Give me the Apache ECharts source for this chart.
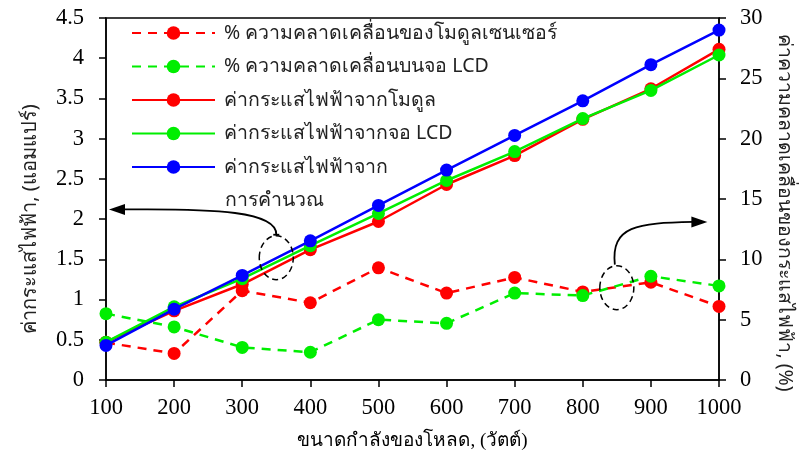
<!DOCTYPE html>
<html>
<head>
<meta charset="utf-8">
<script src="https://cdn.jsdelivr.net/npm/echarts@6/dist/echarts.min.js"></script>
<style>html,body{margin:0;padding:0;background:#fff;}#c{width:803px;height:459px;}</style>
</head>
<body>
<div id="c"></div>
<script>
const loads = [100, 200, 300, 400, 500, 600, 700, 800, 900, 1000];
const errModule = [3.1, 2.2, 7.4, 6.4, 9.3, 7.2, 8.5, 7.3, 8.1, 6.1];
const errLCD = [5.5, 4.4, 2.7, 2.3, 5.0, 4.7, 7.2, 7.0, 8.6, 7.8];
const curModule = [0.47, 0.86, 1.19, 1.62, 1.97, 2.43, 2.79, 3.24, 3.62, 4.11];
const curLCD = [0.47, 0.91, 1.26, 1.67, 2.07, 2.48, 2.84, 3.25, 3.60, 4.04];
const curCalc = [0.43, 0.88, 1.30, 1.73, 2.17, 2.61, 3.04, 3.47, 3.92, 4.35];
const names = [
  '% ความคลาดเคลื่อนของโมดูลเซนเซอร์',
  '% ความคลาดเคลื่อนบนจอ LCD',
  'ค่ากระแสไฟฟ้าจากโมดูล',
  'ค่ากระแสไฟฟ้าจากจอ LCD',
  'ค่ากระแสไฟฟ้าจาก\nการคำนวณ'
];
const xTitle = 'ขนาดกำลังของโหลด, (วัตต์)';
const yLeftTitle = 'ค่ากระแสไฟฟ้า, (แอมแปร์)';
const yRightTitle = 'ค่าความคลาดเคลื่อนของกระแสไฟฟ้า, (%)';

const RED = '#ff0000', GREEN = '#00ee00', BLUE = '#0000ff';
const serif = '"Liberation Serif", "Times New Roman", serif';
const sans = '"Noto Sans", sans-serif';

function pairs(ys) { return loads.map((x, i) => [x, ys[i]]); }
function mk(name, data, color, dashed, yIdx, z) {
  return {
    name: name, type: 'line', yAxisIndex: yIdx, data: pairs(data), z: z,
    symbol: 'circle', symbolSize: 13,
    lineStyle: { color: color, width: 2.5, type: dashed ? [9, 7] : 'solid' },
    itemStyle: { color: color },
    emphasis: { disabled: true }, animation: false
  };
}

const chart = echarts.init(document.getElementById('c'), null, { renderer: 'canvas' });
const axisLine = { show: true, lineStyle: { color: '#000', width: 1.5 } };
const axisTick = { show: true, inside: false, length: 7, lineStyle: { color: '#000', width: 1.5 } };
const fmt = v => String(v);
const LEG_LEFT = 126, LEG_TOP = 13, LEG_W = 83, LEG_PITCH = 33.5, LEG_FONT = 19.5, LEG_PAD = 4;
chart.setOption({
  animation: false,
  grid: { left: 106, right: 84, top: 18, bottom: 79, show: true, borderColor: '#000', borderWidth: 1.5 },
  legend: {
    orient: 'vertical', left: LEG_LEFT, top: LEG_TOP, itemWidth: LEG_W, itemHeight: 17, itemGap: 3.5,
    textStyle: { fontFamily: sans, fontSize: LEG_FONT, color: '#222', lineHeight: 30, padding: [0, 0, 0, LEG_PAD] },
    formatter: n => n.split('\n')[0],
    data: names
  },
  xAxis: {
    type: 'value', min: 100, max: 1000, interval: 100,
    name: xTitle, nameLocation: 'middle', nameGap: 52,
    nameTextStyle: { fontFamily: serif, fontSize: 19, color: '#000' },
    axisLine: axisLine, axisTick: axisTick, splitLine: { show: false },
    axisLabel: { fontFamily: serif, fontSize: 22.5, color: '#000', margin: 17, formatter: fmt }
  },
  yAxis: [
    {
      type: 'value', min: 0, max: 4.5, interval: 0.5, position: 'left',
      name: yLeftTitle, nameLocation: 'middle', nameGap: 66, nameRotate: 90,
      nameTextStyle: { fontFamily: sans, fontSize: 20, color: '#222', padding: [0, 0, 0, -40] },
      axisLine: axisLine, axisTick: axisTick, splitLine: { show: false },
      axisLabel: { fontFamily: serif, fontSize: 22.5, color: '#000', margin: 22, formatter: fmt }
    },
    {
      type: 'value', min: 0, max: 30, interval: 5, position: 'right',
      name: yRightTitle, nameLocation: 'middle', nameGap: 56, nameRotate: -90,
      nameTextStyle: { fontFamily: sans, fontSize: 19.5, color: '#222', padding: [0, 0, 0, 28] },
      axisLine: axisLine, axisTick: axisTick, splitLine: { show: false },
      axisLabel: { fontFamily: serif, fontSize: 22.5, color: '#000', margin: 21, formatter: fmt }
    }
  ],
  series: [
    mk(names[0], errModule, RED, true, 1, 3),
    mk(names[1], errLCD, GREEN, true, 1, 3),
    mk(names[2], curModule, RED, false, 0, 4),
    mk(names[3], curLCD, GREEN, false, 0, 5),
    mk(names[4], curCalc, BLUE, false, 0, 6)
  ]
});

// annotations anchored to data coordinates
const eL = chart.convertToPixel({ xAxisIndex: 0, yAxisIndex: 0 }, [350, 1.52]);
const aL = chart.convertToPixel({ xAxisIndex: 0, yAxisIndex: 0 }, [100, 2.12]);
const eR = chart.convertToPixel({ xAxisIndex: 0, yAxisIndex: 1 }, [850, 7.65]);
const aR = chart.convertToPixel({ xAxisIndex: 0, yAxisIndex: 1 }, [980, 13.1]);
const rx = 17, ry = 22;
const dash = { stroke: '#000', lineWidth: 1.5, lineDash: [6, 4], fill: null };
const solid = { stroke: '#000', lineWidth: 1.8, fill: null };
const tipL = [aL[0] + 3, aL[1]];
const tipR = [aR[0] + 2, aR[1]];
// second line of the last legend entry, placed under its first line
const lastLines = names[4].split('\n');
const legTextX = LEG_LEFT + LEG_W + 16;
const lastCenterY = 33 + 4 * LEG_PITCH;
chart.setOption({
  graphic: [
    { type: 'text', left: legTextX, top: lastCenterY + 33 - 15,
      style: { text: lastLines[1], font: LEG_FONT + 'px "Noto Sans", sans-serif', fill: '#222', lineHeight: 30 }, z: 10 },
    { type: 'ellipse', shape: { cx: eL[0], cy: eL[1], rx: rx, ry: ry }, style: dash, z: 10 },
    { type: 'ellipse', shape: { cx: eR[0], cy: eR[1], rx: rx, ry: ry }, style: dash, z: 10 },
    { type: 'bezierCurve', shape: {
        x1: eL[0], y1: eL[1] - ry - 1,
        cpx1: eL[0] + 1, cpy1: tipL[1] + 2,
        cpx2: eL[0] - 60, cpy2: tipL[1] - 1,
        x2: tipL[0] + 14, y2: tipL[1] }, style: solid, z: 10 },
    { type: 'line', shape: { x1: eL[0] - 3, y1: eL[1] - ry - 1, x2: eL[0] + 3, y2: eL[1] - ry - 1 }, style: solid, z: 10 },
    { type: 'polygon', shape: { points: [[tipL[0], tipL[1]], [tipL[0] + 16, tipL[1] - 5.5], [tipL[0] + 16, tipL[1] + 5.5]] }, style: { fill: '#000' }, z: 10 },
    { type: 'bezierCurve', shape: {
        x1: eR[0] - 2, y1: eR[1] - ry - 1,
        cpx1: eR[0] - 6, cpy1: tipR[1] + 4,
        cpx2: eR[0] + 20, cpy2: tipR[1] + 1,
        x2: tipR[0] - 14, y2: tipR[1] }, style: solid, z: 10 },
    { type: 'polygon', shape: { points: [[tipR[0], tipR[1]], [tipR[0] - 16, tipR[1] - 5.5], [tipR[0] - 16, tipR[1] + 5.5]] }, style: { fill: '#000' }, z: 10 }
  ]
});
</script>
</body>
</html>
